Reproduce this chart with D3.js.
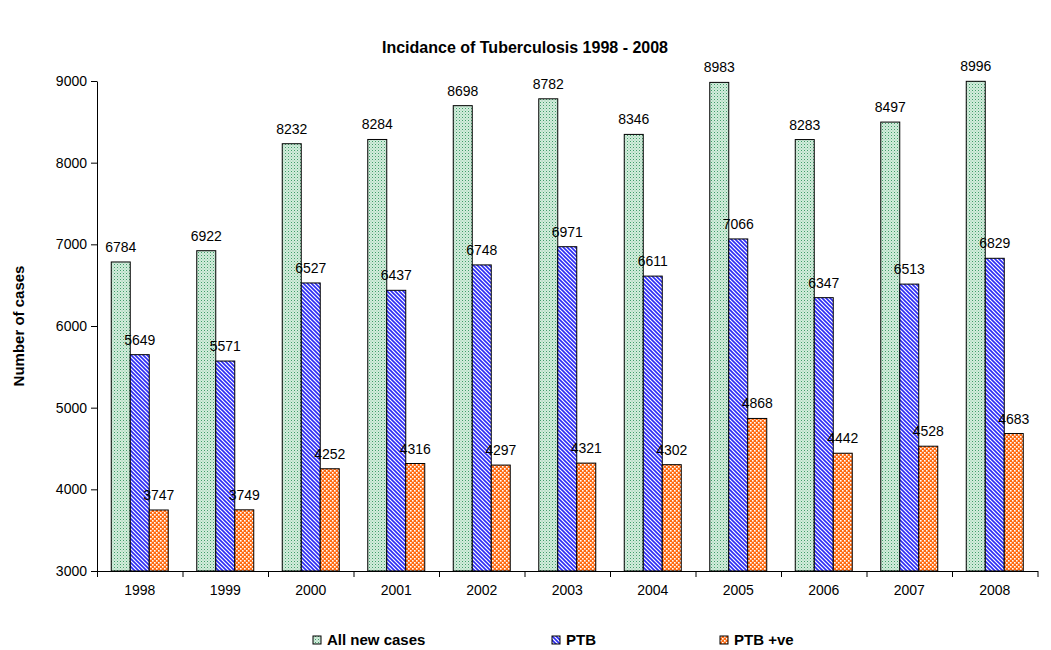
<!DOCTYPE html>
<html>
<head>
<meta charset="utf-8">
<script src="https://cdn.jsdelivr.net/npm/d3@7"></script>
<style>
  html, body { margin: 0; padding: 0; background: #fff; }
  svg { display: block; font-family: "Liberation Sans", Arial, sans-serif; }
</style>
</head>
<body>
<svg id="chart" width="1051" height="650"></svg>
<script>
const years = ["1998","1999","2000","2001","2002","2003","2004","2005","2006","2007","2008"];
const allNewCases = [6784, 6922, 8232, 8284, 8698, 8782, 8346, 8983, 8283, 8497, 8996];
const ptb = [5649, 5571, 6527, 6437, 6748, 6971, 6611, 7066, 6347, 6513, 6829];
const ptbPositive = [3747, 3749, 4252, 4316, 4297, 4321, 4302, 4868, 4442, 4528, 4683];
const seriesNames = ["All new cases", "PTB", "PTB +ve"];
const yTicks = [3000, 4000, 5000, 6000, 7000, 8000, 9000];
const titleText = "Incidance of Tuberculosis 1998 - 2008";
const yTitleText = "Number of cases";

(function () {
const svg = d3.select("#chart");
const defs = svg.append("defs");

// Patterns
const pGreen = defs.append("pattern").attr("id", "pat0").attr("patternUnits", "userSpaceOnUse")
  .attr("width", 3).attr("height", 3);
pGreen.append("rect").attr("width", 3).attr("height", 3).attr("fill", "#d3ecdc");
pGreen.append("rect").attr("x", 0).attr("y", 0).attr("width", 1).attr("height", 1).attr("fill", "#3f9d69");
pGreen.append("rect").attr("x", 1.5).attr("y", 1.5).attr("width", 1).attr("height", 1).attr("fill", "#8cc8a4");

const pBlue = defs.append("pattern").attr("id", "pat1").attr("patternUnits", "userSpaceOnUse")
  .attr("width", 4).attr("height", 4);
pBlue.append("rect").attr("width", 4).attr("height", 4).attr("fill", "#ffffff");
pBlue.append("path").attr("d", "M-1,-1 L5,5 M-1,3 L1,5 M3,-1 L5,1")
  .attr("stroke", "#2b2bf5").attr("stroke-width", 1.6);

const pOrange = defs.append("pattern").attr("id", "pat2").attr("patternUnits", "userSpaceOnUse")
  .attr("width", 4).attr("height", 4);
pOrange.append("rect").attr("width", 4).attr("height", 4).attr("fill", "#ff6a10");
pOrange.append("rect").attr("x", 0).attr("y", 0).attr("width", 1.6).attr("height", 1.6).attr("fill", "#ffffff");
pOrange.append("rect").attr("x", 2).attr("y", 2).attr("width", 1.6).attr("height", 1.6).attr("fill", "#ffffff");

const fills = ["url(#pat0)", "url(#pat1)", "url(#pat2)"];
const series = [allNewCases, ptb, ptbPositive];

const mLeft = 97, mRight = 1037.5, mTop = 81, mBottom = 571;

const x = d3.scaleBand().domain(years).range([mLeft, mRight]).paddingInner(0).paddingOuter(0);
const y = d3.scaleLinear().domain([3000, 9000]).range([mBottom, mTop]);
const barW = x.bandwidth() / 4.5;

// Bars
series.forEach((vals, si) => {
  const g = svg.append("g");
  g.selectAll("rect").data(vals).join("rect")
    .attr("x", (d, i) => x(years[i]) + x.bandwidth() / 2 - 1.5 * barW + si * barW)
    .attr("y", d => y(d))
    .attr("width", barW)
    .attr("height", d => y(3000) - y(d))
    .attr("fill", fills[si])
    .attr("stroke", "#000")
    .attr("stroke-width", 1);
  g.selectAll("text").data(vals).join("text")
    .attr("x", (d, i) => x(years[i]) + x.bandwidth() / 2 - barW + si * barW)
    .attr("y", d => y(d) - 10)
    .attr("text-anchor", "middle")
    .attr("font-size", 14)
    .attr("fill", "#000")
    .text(d => d);
});

// Y axis
const yAxis = svg.append("g").attr("transform", `translate(${mLeft},0)`)
  .call(d3.axisLeft(y).tickValues(yTicks).tickSize(6).tickSizeOuter(0).tickPadding(4).tickFormat(d3.format("d")));
yAxis.selectAll("text").attr("font-size", 14).attr("fill", "#000").attr("font-family", "Liberation Sans, Arial, sans-serif");
yAxis.selectAll("line, path").attr("stroke", "#000");

// X axis boundary ticks
const xb = d3.scaleLinear().domain([0, years.length]).range([mLeft, mRight]);
const xAxisTicks = svg.append("g").attr("transform", `translate(0,${mBottom})`)
  .call(d3.axisBottom(xb).tickValues(d3.range(years.length + 1)).tickSize(6).tickSizeOuter(0).tickFormat(""));
xAxisTicks.selectAll("line, path").attr("stroke", "#000");

// X labels
const xAxis = svg.append("g").attr("transform", `translate(0,${mBottom})`)
  .call(d3.axisBottom(x).tickSize(0).tickPadding(14));
xAxis.select("path").remove();
xAxis.selectAll("text").attr("font-size", 14).attr("fill", "#000").attr("font-family", "Liberation Sans, Arial, sans-serif");

// Title
svg.append("text").attr("x", 525).attr("y", 53).attr("text-anchor", "middle")
  .attr("font-size", 16).attr("font-weight", "bold").text(titleText);

// Y title
svg.append("text").attr("transform", `translate(24,${(mTop + mBottom) / 2}) rotate(-90)`)
  .attr("text-anchor", "middle").attr("font-size", 15).attr("font-weight", "bold").text(yTitleText);

// Legend
const legendX = [313, 552, 720];
const lg = svg.append("g");
seriesNames.forEach((name, i) => {
  lg.append("rect").attr("x", legendX[i]).attr("y", 636).attr("width", 8).attr("height", 8)
    .attr("fill", fills[i]).attr("stroke", "#000").attr("stroke-width", 1);
  lg.append("text").attr("x", legendX[i] + 14).attr("y", 645)
    .attr("font-size", 15).attr("font-weight", "bold").text(name);
});
})();
</script>
</body>
</html>
